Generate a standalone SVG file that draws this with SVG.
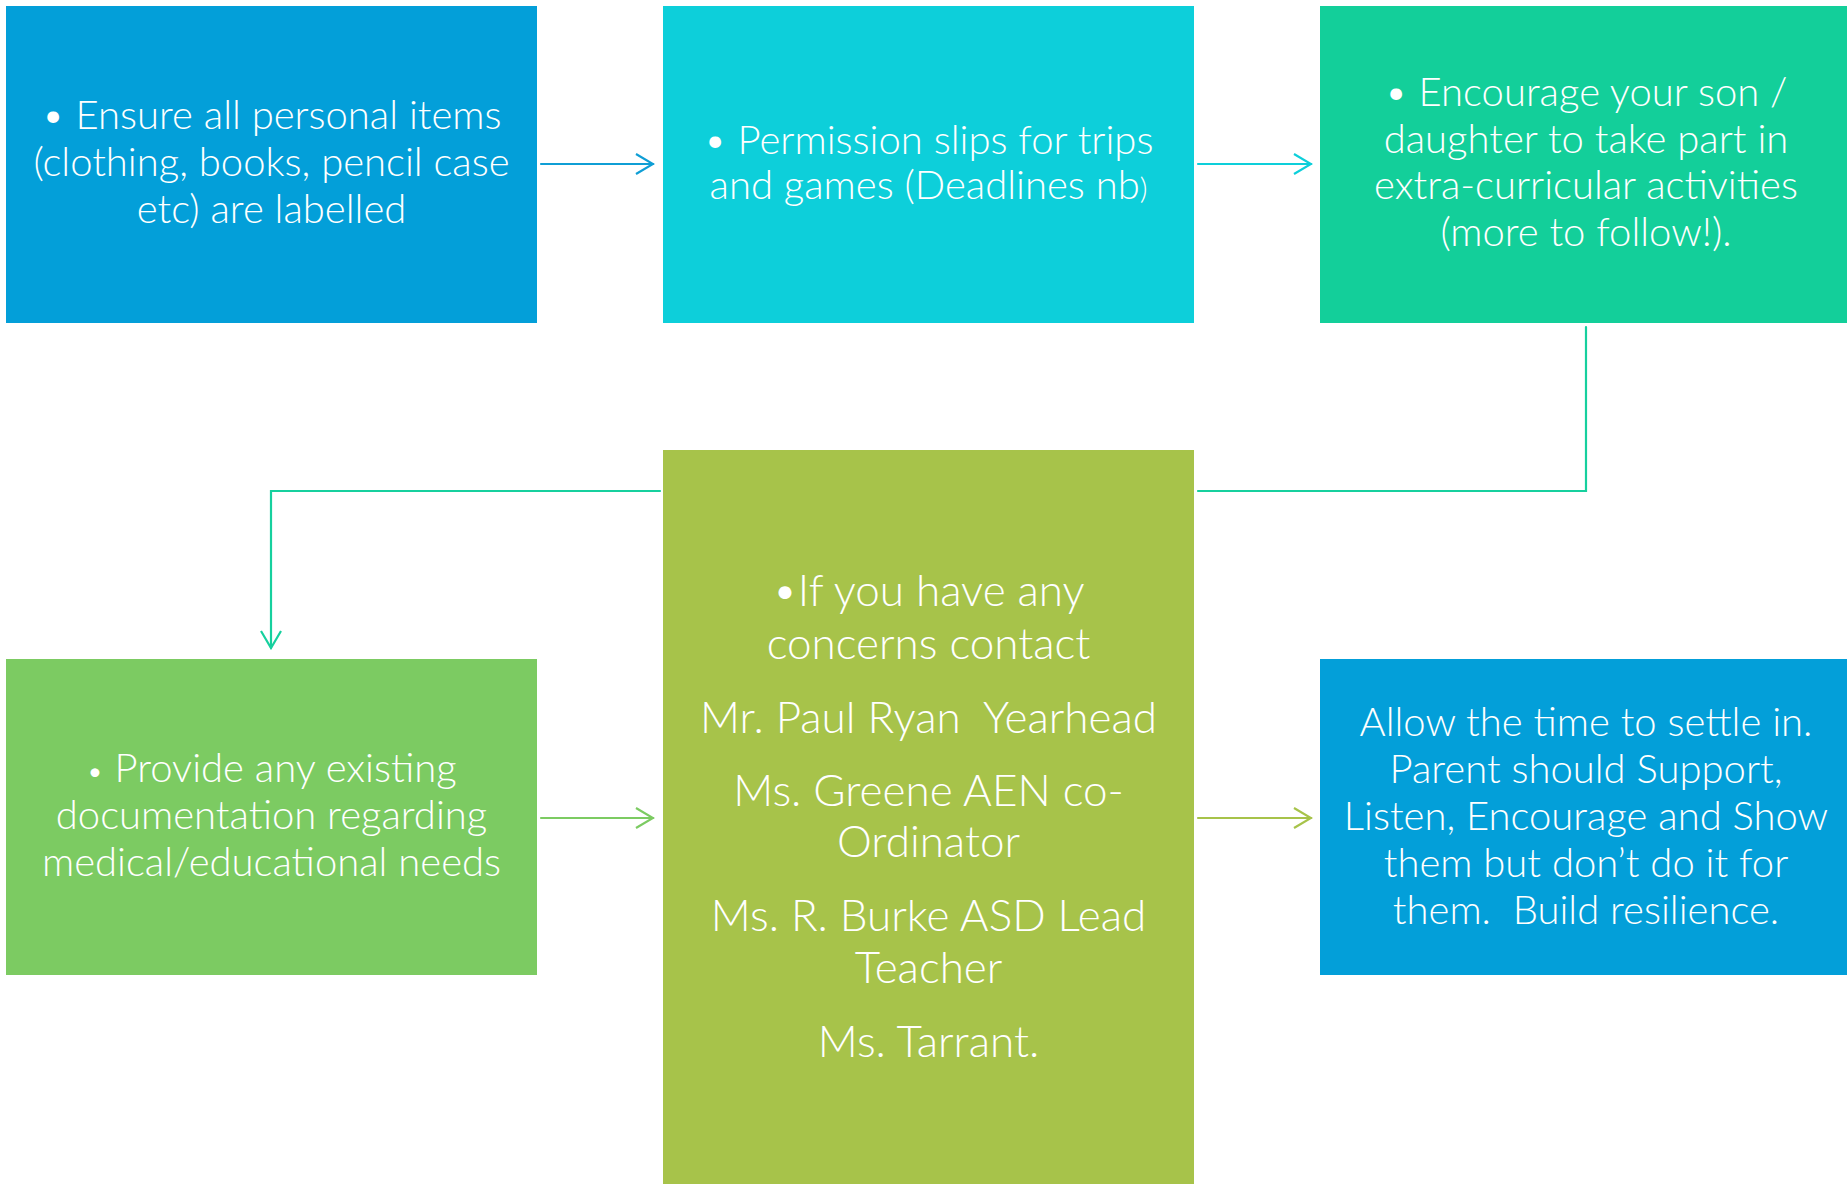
<svg xmlns="http://www.w3.org/2000/svg" width="1847" height="1184" viewBox="0 0 1847 1184">
<defs>
<style>
.t{font-family:"Lato","Open Sans","Liberation Sans",sans-serif;font-weight:300;fill:#ffffff;text-anchor:middle;font-size:40px;white-space:pre}
.c{font-size:44px}
.ln{fill:none;stroke-width:2.2;stroke-linecap:round;stroke-linejoin:miter}
</style>
<marker id="aBlue" markerWidth="20" markerHeight="24" refX="18" refY="12" orient="auto" markerUnits="userSpaceOnUse"><path d="M1,2 L18,12 L1,22" fill="none" stroke="#0F9ED5" stroke-width="2.2"/></marker>
<marker id="aCyan" markerWidth="20" markerHeight="24" refX="18" refY="12" orient="auto" markerUnits="userSpaceOnUse"><path d="M1,2 L18,12 L1,22" fill="none" stroke="#0DCFDA" stroke-width="2.2"/></marker>
<marker id="aTeal" markerWidth="20" markerHeight="24" refX="18" refY="12" orient="auto" markerUnits="userSpaceOnUse"><path d="M1,2 L18,12 L1,22" fill="none" stroke="#16D09E" stroke-width="2.2"/></marker>
<marker id="aGreen" markerWidth="20" markerHeight="24" refX="18" refY="12" orient="auto" markerUnits="userSpaceOnUse"><path d="M1,2 L18,12 L1,22" fill="none" stroke="#7CCB62" stroke-width="2.2"/></marker>
<marker id="aOlive" markerWidth="20" markerHeight="24" refX="18" refY="12" orient="auto" markerUnits="userSpaceOnUse"><path d="M1,2 L18,12 L1,22" fill="none" stroke="#A7C34A" stroke-width="2.2"/></marker>
</defs>
<rect width="1847" height="1184" fill="#ffffff"/>
<g id="connectors">
<path class="ln" d="M541,164 L653,164" stroke="#0F9ED5" marker-end="url(#aBlue)"/>
<path class="ln" d="M1198,164 L1311,164" stroke="#0DCFDA" marker-end="url(#aCyan)"/>
<path class="ln" d="M1586,327 L1586,491 L1198,491" stroke="#16D09E"/>
<path class="ln" d="M660,491 L271,491 L271,648" stroke="#16D09E" marker-end="url(#aTeal)"/>
<path class="ln" d="M541,818 L653,818" stroke="#7CCB62" marker-end="url(#aGreen)"/>
<path class="ln" d="M1198,818 L1311,818" stroke="#A7C34A" marker-end="url(#aOlive)"/>
</g>
<g id="node-labels">
<rect x="6" y="6" width="531" height="317" fill="#039FD9"/>
<text class="t" x="271.5" y="129">• Ensure all personal items</text>
<text class="t" x="271.5" y="176">(clothing, books, pencil case</text>
<text class="t" x="271.5" y="223">etc) are labelled</text>
</g>
<g id="node-permission">
<rect x="663" y="6" width="531" height="317" fill="#0DCFDA"/>
<text class="t" x="928.5" y="154">• Permission slips for trips</text>
<text class="t" x="928.5" y="199">and games (Deadlines nb<tspan font-size="30px">)</tspan></text>
</g>
<g id="node-encourage">
<rect x="1320" y="6" width="531" height="317" fill="#13CF9A"/>
<text class="t" x="1586" y="106">• Encourage your son /</text>
<text class="t" x="1586" y="152.5">daughter to take part in</text>
<text class="t" x="1586" y="199">extra-curricular activities</text>
<text class="t" x="1586" y="246">(more to follow!).</text>
</g>
<g id="node-contacts">
<rect x="663" y="450" width="531" height="734" fill="#A7C34A"/>
<text class="t c" x="928.5" y="606">•If you have any</text>
<text class="t c" x="928.5" y="659">concerns contact</text>
<text class="t c" x="928.5" y="733">Mr. Paul Ryan  Yearhead</text>
<text class="t c" x="928.5" y="806">Ms. Greene AEN co-</text>
<text class="t c" x="928.5" y="857">Ordinator</text>
<text class="t c" x="928.5" y="931">Ms. R. Burke ASD Lead</text>
<text class="t c" x="928.5" y="983">Teacher</text>
<text class="t c" x="928.5" y="1057">Ms. Tarrant.</text>
</g>
<g id="node-documentation">
<rect x="6" y="659" width="531" height="316" fill="#7CCB62"/>
<text class="t" x="271.5" y="782"><tspan font-size="30px">•</tspan> Provide any existing</text>
<text class="t" x="271.5" y="829">documentation regarding</text>
<text class="t" x="271.5" y="876">medical/educational needs</text>
</g>
<g id="node-settle">
<rect x="1320" y="659" width="531" height="316" fill="#039FD9"/>
<text class="t" x="1586" y="736">Allow the time to settle in.</text>
<text class="t" x="1586" y="783">Parent should Support,</text>
<text class="t" x="1586" y="830">Listen, Encourage and Show</text>
<text class="t" x="1586" y="877">them but don’t do it for</text>
<text class="t" x="1586" y="924">them.  Build resilience.</text>
</g>
</svg>
